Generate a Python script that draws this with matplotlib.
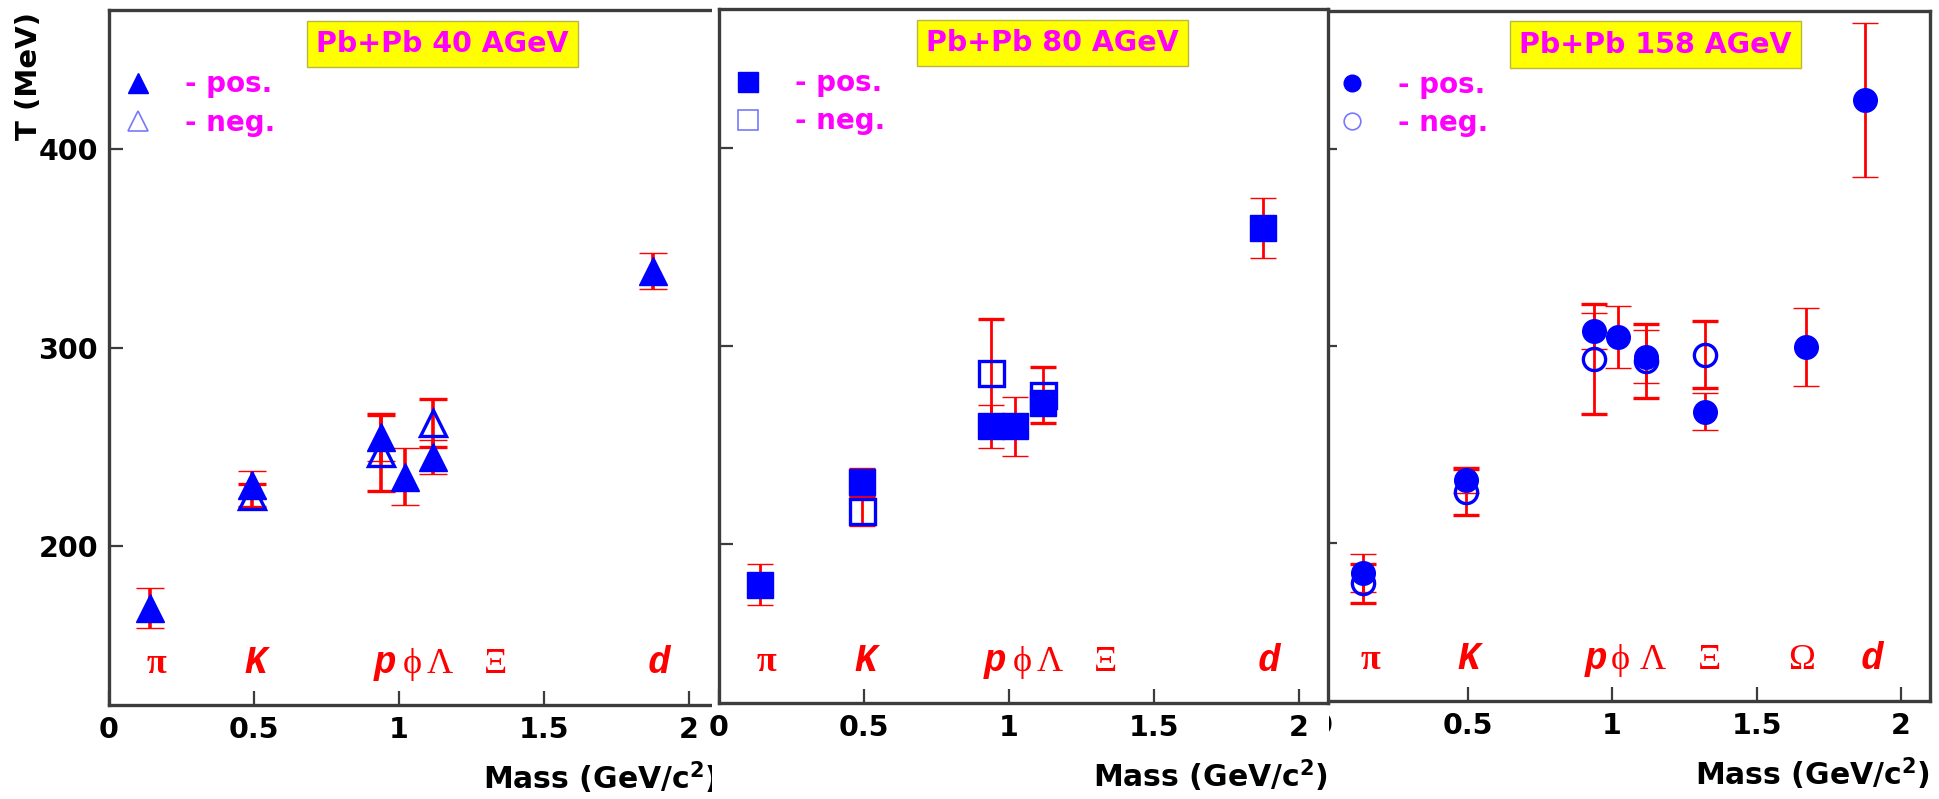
import numpy as np
import matplotlib
matplotlib.use("Agg")
import matplotlib.pyplot as plt
from matplotlib.patches import Rectangle

# inverse slope parameters T vs particle mass, Pb+Pb at three beam energies
# 40 AGeV
m40_pos = [0.140, 0.494, 0.938, 1.019, 1.116, 1.876]
T40_pos = [169, 231, 255, 235, 245, 338.5]
e40_pos = [10, 7, 12, 14.5, 8.5, 9]
m40_neg = [0.494, 0.938, 1.116]
T40_neg = [225.5, 247, 262]
e40_neg = [6, 19, 12]

# 80 AGeV
m80_pos = [0.140, 0.494, 0.938, 1.019, 1.116, 1.876]
T80_pos = [179.6, 231.4, 259.5, 259.5, 271.2, 359.5]
e80_pos = [10.3, 7.1, 10.9, 15, 4, 15]
m80_neg = [0.494, 0.938, 1.116]
T80_neg = [217, 286.5, 275.4]
e80_neg = [7, 27, 14.2]

# 158 AGeV
m158_pos = [0.140, 0.494, 0.938, 1.019, 1.116, 1.321, 1.672, 1.876]
T158_pos = [185, 232, 307.7, 304.5, 294.7, 266.8, 299.4, 425]
e158_pos = [9.7, 6.7, 8.9, 15.8, 13.3, 9.2, 19.7, 39]
m158_neg = [0.140, 0.494, 0.938, 1.116, 1.321]
T158_neg = [179.8, 225.9, 293.6, 292.4, 295.6]
e158_neg = [9.9, 11.7, 27.8, 18.9, 17]

titles = ["Pb+Pb 40 AGeV", "Pb+Pb 80 AGeV", "Pb+Pb 158 AGeV"]
markers = ["^", "s", "o"]

# particle names along the bottom of each panel
names_12 = ["π", "K", "p", "ϕ", "Λ", "Ξ", "d"]
names_3 = ["π", "K", "p", "ϕ", "Λ", "Ξ", "Ω", "d"]
name_x_12 = [0.164, 0.505, 0.95, 1.045, 1.14, 1.333, 1.895]
name_x_3 = [0.164, 0.505, 0.945, 1.03, 1.14, 1.336, 1.654, 1.9]
latin = {"K", "p", "d"}

W, H = 1939, 799
fig = plt.figure(figsize=(W / 100, H / 100), dpi=100)
fig.patch.set_facecolor("white")


def rect(l, r, t, b):
    return [l / W, 1 - b / H, (r - l) / W, (b - t) / H]


SPINE = "#3c3c3c"
BLUE = "#0000ff"
RED = "#ff0000"
MAG = "#ff00ff"


def draw_panel(ax, mpos, tpos, epos, mneg, tneg, eneg, mk, ms, title,
               names, names_x, ylabels, elw=2.0, cap=9.5):
    ax.errorbar(mpos, tpos, yerr=epos, fmt=mk, ms=ms, mfc=BLUE, mec=BLUE,
                mew=1.0, ecolor=RED, elinewidth=elw, capsize=cap,
                capthick=elw, ls="none")
    ax.errorbar(mneg, tneg, yerr=eneg, fmt=mk, ms=ms - 1, mfc="none",
                mec=BLUE, mew=2.4, ecolor=RED, elinewidth=elw, capsize=cap,
                capthick=elw, ls="none")

    ax.set_xlim(0, 2.1)
    ax.set_ylim(120, 470)
    ax.set_xticks([0, 0.5, 1, 1.5, 2])
    ax.set_xticklabels(["0", "0.5", "1", "1.5", "2"])
    ax.set_yticks([200, 300, 400])
    ax.tick_params(direction="in", length=10, width=1.6, color=SPINE,
                   labelsize=20.5, pad=8)
    for lab in ax.get_xticklabels() + ax.get_yticklabels():
        lab.set_fontweight("bold")
    if not ylabels:
        ax.tick_params(labelleft=False)
    for sp in ax.spines.values():
        sp.set_color(SPINE)
        sp.set_linewidth(2.4)

    ax.set_xlabel(r"Mass (GeV/c$^{\mathbf{2}}$)", fontsize=21.5,
                  fontweight="bold", ha="right", va="center")
    ax.xaxis.set_label_coords(1.0, -0.105)

    ax.text(0.548, 0.951, title, transform=ax.transAxes, ha="center",
            va="center", fontsize=20.5, fontweight="bold", color=MAG,
            bbox=dict(boxstyle="square,pad=0.33", fc="#ffff00",
                      ec="#b8b840", lw=1.0))

    # marker key
    ax.plot([0.047], [0.895], mk, ms=ms - 5, color=BLUE,
            transform=ax.transAxes, clip_on=False)
    ax.plot([0.047], [0.84], mk, ms=ms - 5, mfc="none", mec="#7878ff",
            mew=1.2, transform=ax.transAxes, clip_on=False)
    ax.text(0.124, 0.893, "- pos.", transform=ax.transAxes, ha="left",
            va="center", fontsize=20, fontweight="bold", color=MAG)
    ax.text(0.124, 0.838, "- neg.", transform=ax.transAxes, ha="left",
            va="center", fontsize=20, fontweight="bold", color=MAG)

    for n, x in zip(names, names_x):
        if n in latin:
            ax.text(x, 136, n, ha="center", va="baseline", fontsize=27,
                    color=RED, family=["Liberation Mono", "DejaVu Sans Mono"],
                    fontweight="bold", fontstyle="italic")
        else:
            ax.text(x, 136, n, ha="center", va="baseline", fontsize=26,
                    color=RED, family=["Liberation Serif", "DejaVu Serif"],
                    fontweight="bold" if n == "π" else "normal")


ax1 = fig.add_axes(rect(109, 718, 10, 705))
ax3 = fig.add_axes(rect(1323, 1930, 11, 701))
# middle panel sits on top of its neighbours
fig.add_artist(Rectangle((712 / W, 0), (1329 - 712) / W, 1,
                         transform=fig.transFigure, fc="white", ec="none",
                         zorder=0.5))
ax2 = fig.add_axes(rect(719, 1328, 9, 703))
ax2.set_zorder(1)

draw_panel(ax1, m40_pos, T40_pos, e40_pos, m40_neg, T40_neg, e40_neg,
           markers[0], 20, titles[0], names_12, name_x_12, True,
           elw=2.6, cap=10)
draw_panel(ax2, m80_pos, T80_pos, e80_pos, m80_neg, T80_neg, e80_neg,
           markers[1], 19, titles[1], names_12, name_x_12, False)
draw_panel(ax3, m158_pos, T158_pos, e158_pos, m158_neg, T158_neg, e158_neg,
           markers[2], 17, titles[2], names_3, name_x_3, False)

fig.text(29 / W, 1 - 12 / H, "T (MeV)", rotation=90, ha="center", va="top",
         fontsize=21, fontweight="bold")

fig.savefig("out.png", dpi=100)
